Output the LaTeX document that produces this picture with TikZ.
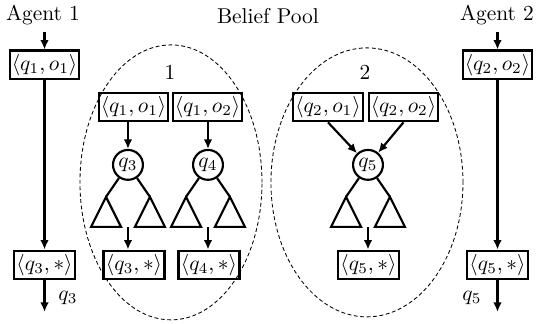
\documentclass[tikz,border=0pt]{standalone}
\usepackage{tikz}
\usetikzlibrary{shapes, arrows.meta, positioning, calc}
\usepackage{amsmath, amssymb}

\begin{document}
\begin{tikzpicture}[
  qbox/.style={draw, line width=1pt, inner sep=1pt, minimum height=0.47cm, minimum width=1cm},
  qnode/.style={draw, circle, line width=1pt, inner sep=0.5pt, minimum size=0.49cm},
  pool/.style={draw, ellipse, dash pattern=on 1.8pt off 1.2pt, line width=0.4pt, inner sep=0pt},
  arr/.style={-{Latex[length=4.4pt, width=4pt]}, line width=1pt},
  tree/.style={line width=1pt, line join=miter}
]
  \useasboundingbox (0,0) rectangle (8.82,5.31);

  % agents
  \node (agent1) at (0.705, 5.066) {Agent 1};
  \node (agent2) at (8.148, 5.066) {Agent 2};
  \coordinate (a1src) at (0.73, 4.787);
  \coordinate (a2src) at (8.156, 4.787);
  \coordinate (a1dst) at (0.73, 0.197);
  \coordinate (a2dst) at (8.156, 0.197);
  \node[qbox] (a1in) at (0.73, 4.246) {$\langle q_1, o_1\rangle$};
  \node[qbox] (a1out) at (0.73, 0.967) {$\langle q_3, *\rangle$};
  \node[qbox] (a2in) at (8.156, 4.246) {$\langle q_2, o_2\rangle$};
  \node[qbox] (a2out) at (8.156, 0.967) {$\langle q_5, *\rangle$};
  \node (out1) at (1.115, 0.426) {$q_3$};
  \node (out2) at (7.738, 0.426) {$q_5$};

  \draw[arr] (a1src) -- (a1in);
  \draw[arr] (a1in) -- (a1out);
  \draw[arr] (a1out) -- (a1dst);
  \draw[arr] (a2src) -- (a2in);
  \draw[arr] (a2in) -- (a2out);
  \draw[arr] (a2out) -- (a2dst);

  % belief pool
  \node (title) at (4.393, 5.049) {Belief Pool};
  \node[pool, minimum width=2.984cm, minimum height=4.508cm] (pool1) at (2.803, 2.32) {};
  \node[pool, minimum width=3.148cm, minimum height=4.41cm] (pool2) at (6.016, 2.32) {};
  \node (num1) at (2.787, 4.131) {1};
  \node (num2) at (5.984, 4.131) {2};

  \node[qbox] (b11) at (2.189, 3.557) {$\langle q_1, o_1\rangle$};
  \node[qbox] (b12) at (3.402, 3.557) {$\langle q_1, o_2\rangle$};
  \node[qbox] (b21) at (5.377, 3.557) {$\langle q_2, o_1\rangle$};
  \node[qbox] (b22) at (6.615, 3.557) {$\langle q_2, o_2\rangle$};

  \node[qnode] (q3) at (2.098, 2.607) {$q_3$};
  \node[qnode] (q4) at (3.410, 2.607) {$q_4$};
  \node[qnode] (q5) at (6.033, 2.607) {$q_5$};

  \node[qbox] (b3) at (2.197, 0.967) {$\langle q_3, *\rangle$};
  \node[qbox] (b4) at (3.426, 0.967) {$\langle q_4, *\rangle$};
  \node[qbox] (b5) at (6.041, 0.967) {$\langle q_5, *\rangle$};

  \draw[arr] (b11.south -| q3) -- (q3);
  \draw[arr] (b12.south -| q4) -- (q4);
  \draw[arr] (b21.south) -- (q5);
  \draw[arr] (b22.south) -- (q5);

  % subtrees
  \foreach \c in {q3, q4, q5} {
    \coordinate (\c l) at ($(\c)+(-0.36,-0.525)$);
    \coordinate (\c r) at ($(\c)+(0.36,-0.525)$);
    \coordinate (\c b) at ($(\c)+(0,-1.017)$);
    \draw[tree] (\c) -- (\c l);
    \draw[tree] (\c) -- (\c r);
    \draw[tree] (\c l) -- ++(-0.246,-0.492) -- ++(0.492,0) -- cycle;
    \draw[tree] (\c r) -- ++(-0.246,-0.492) -- ++(0.492,0) -- cycle;
  }
  \draw[arr] (q3b) -- (b3.north -| q3);
  \draw[arr] (q4b) -- (b4.north -| q4);
  \draw[arr] (q5b) -- (b5.north -| q5);
\end{tikzpicture}
\end{document}
